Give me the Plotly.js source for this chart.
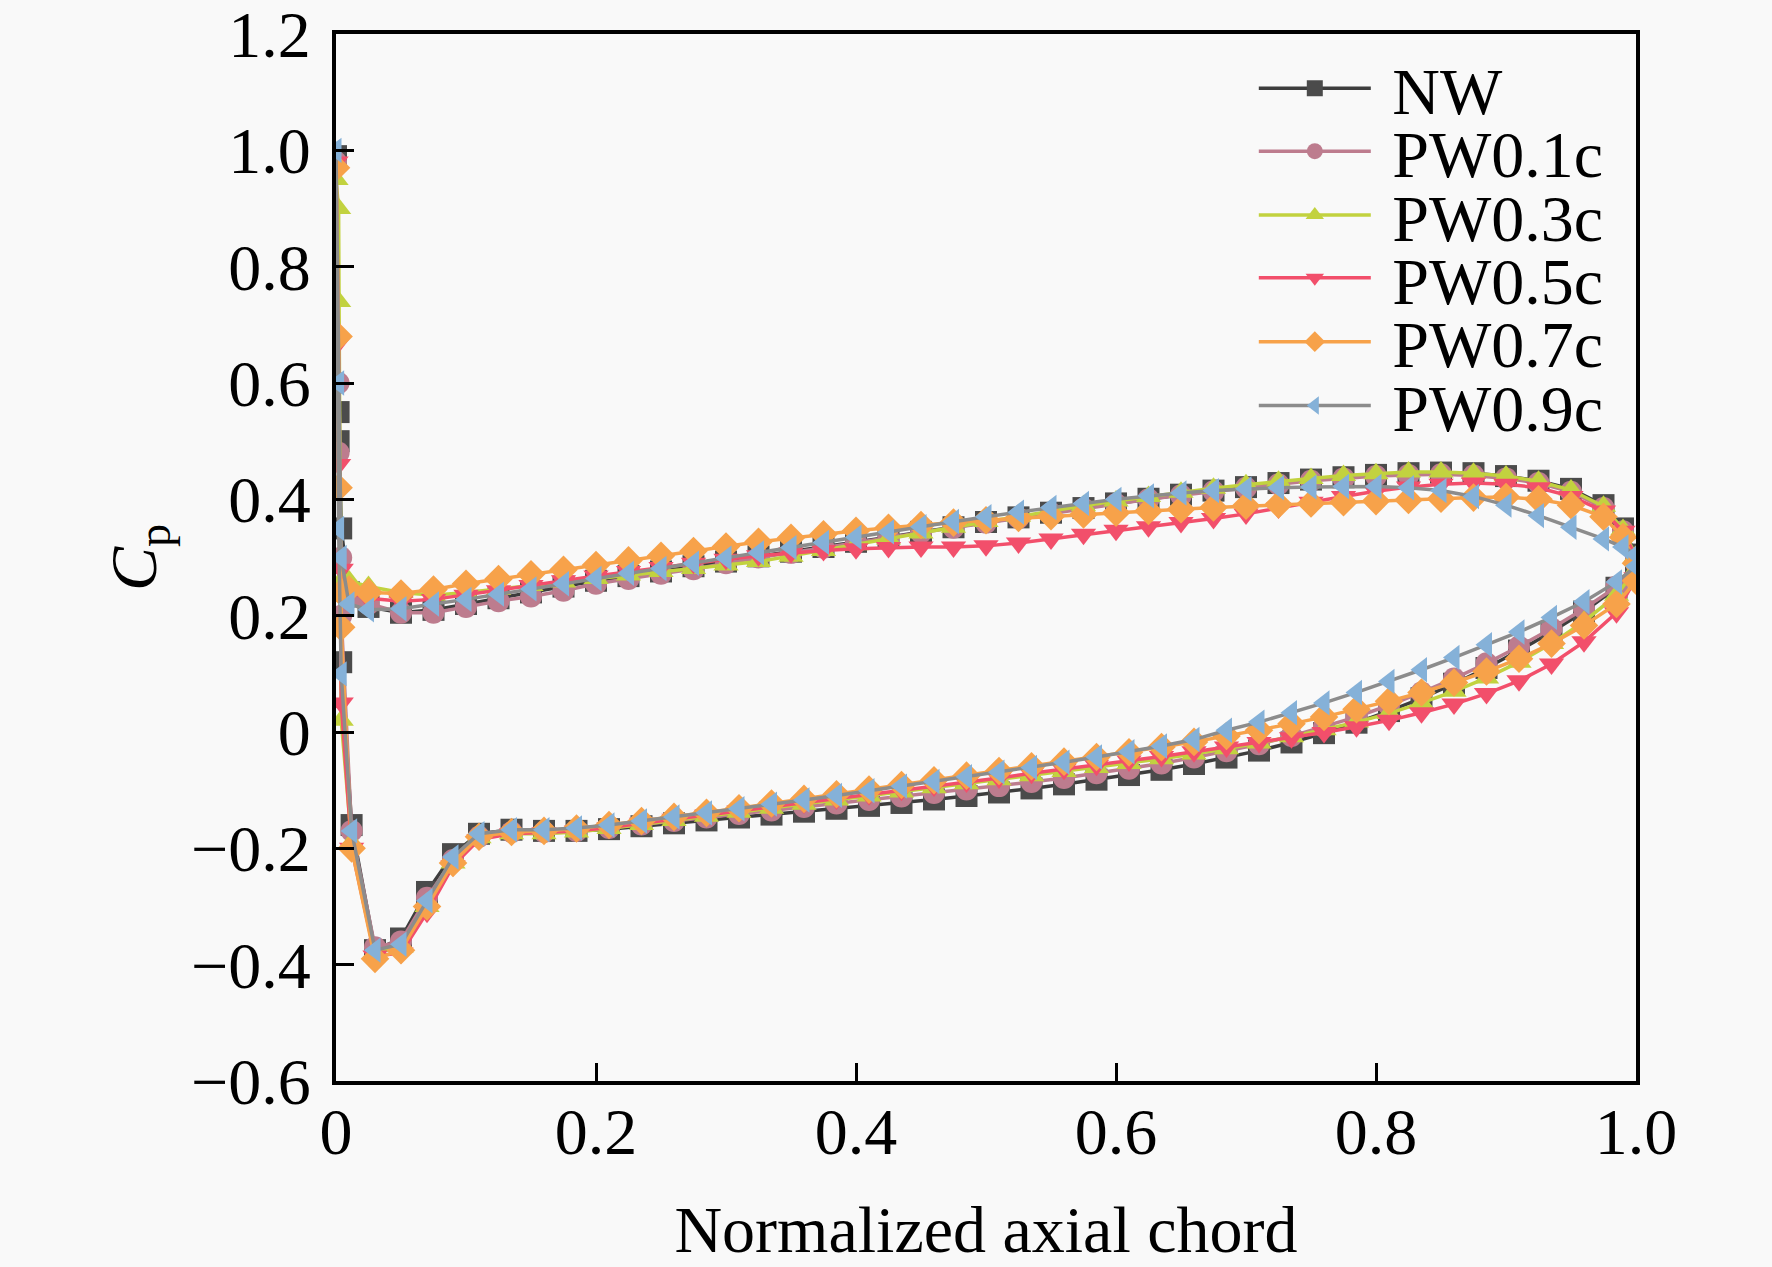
<!DOCTYPE html>
<html>
<head>
<meta charset="utf-8">
<script src="https://cdn.plot.ly/plotly-3.0.1.min.js"></script>
<style>
  html, body { margin: 0; padding: 0; background: #f9f9f9; }
  #graph_area { width: 1772px; height: 1267px; }
</style>
</head>
<body>
<div id="graph_area"></div>
<script>
// pressure side (upper branch)
const xPS = [0.01, 0.025, 0.05, 0.075, 0.1, 0.125, 0.15, 0.175, 0.2, 0.225, 0.25, 0.275, 0.3, 0.325,
    0.35, 0.375, 0.4, 0.425, 0.45, 0.475, 0.5, 0.525, 0.55, 0.575, 0.6, 0.625, 0.65, 0.675, 0.7,
    0.725, 0.75, 0.775, 0.8, 0.825, 0.85, 0.875, 0.9, 0.925, 0.95, 0.975, 0.99, 1.0];

// suction side (lower branch)
const xSS = [0.012, 0.03, 0.05, 0.07, 0.09, 0.11, 0.135, 0.16, 0.185, 0.21, 0.235, 0.26, 0.285, 0.31,
    0.335, 0.36, 0.385, 0.41, 0.435, 0.46, 0.485, 0.51, 0.535, 0.56, 0.585, 0.61, 0.635, 0.66, 0.685,
    0.71, 0.735, 0.76, 0.785, 0.81, 0.835, 0.86, 0.885, 0.91, 0.935, 0.96, 0.985, 1.0];

// points squeezed at the leading edge (stagnation region)
const xLE = [0.004, 0.002, 0, 0.002, 0.004];

const names = ["NW", "PW0.1c", "PW0.3c", "PW0.5c", "PW0.7c", "PW0.9c"];

const cpPS_NW = [0.24, 0.215, 0.205, 0.21, 0.22, 0.23, 0.24, 0.25, 0.26, 0.268, 0.276, 0.285, 0.293, 0.302,
    0.31, 0.318, 0.327, 0.335, 0.344, 0.352, 0.361, 0.369, 0.377, 0.385, 0.393, 0.401, 0.408, 0.415, 0.421,
    0.428, 0.434, 0.438, 0.442, 0.445, 0.446, 0.445, 0.44, 0.432, 0.418, 0.39, 0.35, 0.305];
const cpPS_01 = [0.23, 0.22, 0.205, 0.205, 0.215, 0.225, 0.233, 0.243, 0.255, 0.263, 0.272, 0.28, 0.29, 0.3,
    0.308, 0.317, 0.326, 0.334, 0.343, 0.351, 0.36, 0.368, 0.376, 0.384, 0.392, 0.4, 0.407, 0.414, 0.42,
    0.426, 0.432, 0.436, 0.44, 0.442, 0.443, 0.441, 0.436, 0.428, 0.413, 0.385, 0.345, 0.3];
const cpPS_03 = [0.26, 0.25, 0.24, 0.235, 0.24, 0.245, 0.252, 0.258, 0.264, 0.27, 0.276, 0.281, 0.287, 0.293,
    0.302, 0.312, 0.322, 0.332, 0.342, 0.352, 0.362, 0.371, 0.38, 0.389, 0.397, 0.405, 0.412, 0.419, 0.425,
    0.431, 0.436, 0.441, 0.444, 0.447, 0.447, 0.445, 0.44, 0.431, 0.416, 0.388, 0.348, 0.302];
const cpPS_05 = [0.24, 0.23, 0.225, 0.228, 0.235, 0.243, 0.252, 0.26, 0.268, 0.276, 0.283, 0.29, 0.297, 0.303,
    0.308, 0.312, 0.315, 0.317, 0.318, 0.318, 0.32, 0.325, 0.332, 0.34, 0.347, 0.353, 0.36, 0.367, 0.375,
    0.385, 0.395, 0.405, 0.414, 0.421, 0.426, 0.428, 0.426, 0.42, 0.405, 0.38, 0.345, 0.3];
const cpPS_07 = [0.245, 0.24, 0.238, 0.245, 0.255, 0.263, 0.271, 0.279, 0.287, 0.295, 0.303, 0.311, 0.319, 0.327,
    0.334, 0.34, 0.346, 0.351, 0.356, 0.36, 0.364, 0.368, 0.371, 0.374, 0.377, 0.38, 0.383, 0.386, 0.389,
    0.391, 0.393, 0.395, 0.397, 0.399, 0.401, 0.403, 0.404, 0.4, 0.39, 0.37, 0.335, 0.29];
const cpPS_09 = [0.22, 0.21, 0.212, 0.22, 0.228, 0.237, 0.246, 0.255, 0.264, 0.273, 0.281, 0.29, 0.299, 0.308,
    0.317, 0.326, 0.335, 0.344, 0.353, 0.362, 0.37, 0.378, 0.386, 0.393, 0.4, 0.406, 0.411, 0.415, 0.418,
    0.42, 0.421, 0.422, 0.422, 0.42, 0.415, 0.405, 0.39, 0.372, 0.352, 0.332, 0.318, 0.305];

const cpLE_NW = [0.35, 0.55, 0.99, 0.5, 0.12];
const cpLE_01 = [0.3, 0.48, 0.98, 0.6, 0.2];
const cpLE_03 = [0.26, 0.74, 0.95, 0.9, 0.02];
const cpLE_05 = [0.28, 0.46, 0.98, 0.67, 0.05];
const cpLE_07 = [0.24, 0.42, 0.97, 0.68, 0.18];
const cpLE_09 = [0.3, 0.6, 1.0, 0.35, 0.1];

const cpSS_NW = [-0.16, -0.375, -0.355, -0.275, -0.21, -0.175, -0.168, -0.17, -0.17, -0.167, -0.162, -0.157,
    -0.152, -0.147, -0.142, -0.137, -0.132, -0.127, -0.122, -0.116, -0.11, -0.104, -0.097, -0.09, -0.082,
    -0.074, -0.065, -0.055, -0.044, -0.032, -0.018, -0.002, 0.016, 0.036, 0.058, 0.083, 0.11, 0.14, 0.172,
    0.207, 0.248, 0.29];
const cpSS_01 = [-0.17, -0.37, -0.36, -0.285, -0.22, -0.18, -0.172, -0.172, -0.17, -0.165, -0.159, -0.153,
    -0.147, -0.141, -0.135, -0.129, -0.123, -0.117, -0.111, -0.105, -0.099, -0.093, -0.086, -0.079, -0.071,
    -0.063, -0.054, -0.044, -0.033, -0.021, -0.007, 0.009, 0.026, 0.046, 0.068, 0.092, 0.118, 0.147, 0.178,
    0.212, 0.25, 0.29];
const cpSS_03 = [-0.19, -0.38, -0.37, -0.3, -0.225, -0.182, -0.175, -0.175, -0.172, -0.166, -0.159, -0.152,
    -0.145, -0.138, -0.131, -0.124, -0.117, -0.11, -0.103, -0.096, -0.089, -0.082, -0.075, -0.068, -0.061,
    -0.054, -0.046, -0.038, -0.029, -0.019, -0.008, 0.004, 0.017, 0.032, 0.05, 0.07, 0.093, 0.12, 0.152,
    0.19, 0.235, 0.28];
const cpSS_05 = [-0.2, -0.385, -0.38, -0.31, -0.23, -0.185, -0.175, -0.173, -0.17, -0.164, -0.157, -0.15,
    -0.143, -0.136, -0.129, -0.122, -0.115, -0.108, -0.1, -0.093, -0.086, -0.079, -0.071, -0.064, -0.057,
    -0.05, -0.042, -0.034, -0.026, -0.018, -0.01, -0.001, 0.009, 0.02, 0.033, 0.048, 0.066, 0.088, 0.117,
    0.155, 0.205, 0.265];
const cpSS_07 = [-0.2, -0.39, -0.375, -0.3, -0.225, -0.18, -0.172, -0.17, -0.166, -0.16, -0.153, -0.146,
    -0.139, -0.131, -0.123, -0.115, -0.107, -0.099, -0.091, -0.083, -0.075, -0.067, -0.059, -0.051, -0.043,
    -0.035, -0.026, -0.017, -0.007, 0.003, 0.014, 0.026, 0.039, 0.053, 0.068, 0.085, 0.104, 0.126, 0.152,
    0.183, 0.22, 0.26];
const cpSS_09 = [-0.17, -0.375, -0.365, -0.29, -0.215, -0.175, -0.168, -0.168, -0.165, -0.16, -0.153, -0.146,
    -0.139, -0.132, -0.124, -0.117, -0.109, -0.101, -0.093, -0.085, -0.077, -0.069, -0.061, -0.052, -0.043,
    -0.034, -0.024, -0.013, 0.003, 0.017, 0.033, 0.05, 0.068, 0.087, 0.107, 0.128, 0.15, 0.172, 0.197,
    0.224, 0.258, 0.285];

const yTicks = [-0.6, -0.4, -0.2, 0, 0.2, 0.4, 0.6, 0.8, 1.0, 1.2];
const yTickText = ["\u22120.6", "\u22120.4", "\u22120.2", "0", "0.2", "0.4", "0.6", "0.8", "1.0", "1.2"];
const xTicks = [0, 0.2, 0.4, 0.6, 0.8, 1.0];
const xTickText = ["0", "0.2", "0.4", "0.6", "0.8", "1.0"];

const allPS = [cpPS_NW, cpPS_01, cpPS_03, cpPS_05, cpPS_07, cpPS_09];
const allLE = [cpLE_NW, cpLE_01, cpLE_03, cpLE_05, cpLE_07, cpLE_09];
const allSS = [cpSS_NW, cpSS_01, cpSS_03, cpSS_05, cpSS_07, cpSS_09];

const markerColors = ["#4b4b4b", "#bd7c8e", "#c2d23f", "#f24f6b", "#f7a24a", "#85b1d8"];
const lineColors = ["#3d3d3d", "#bd7c8e", "#c2d23f", "#f24f6b", "#f7a24a", "#8c8c8c"];
const symbols = ["square", "circle", "triangle-up", "triangle-down", "diamond", "triangle-left"];

const FONT = "Liberation Serif, Times New Roman, serif";

// one legend per entry so the row pitch can follow the picture
const legendIds = ["legend", "legend2", "legend3", "legend4", "legend5", "legend6"];

const traces = names.map((nm, i) => ({
    x: xPS.slice().reverse().concat(xLE, xSS),
    y: allPS[i].slice().reverse().concat(allLE[i], allSS[i]),
    name: "\u00a0" + nm,
    legend: legendIds[i],
    type: "scatter",
    mode: "lines+markers",
    line: { color: lineColors[i], width: 3.5 },
    marker: { symbol: symbols[i], size: 22, color: markerColors[i], line: { width: 0 } },
}));

const axisCommon = {
    showline: true,
    linecolor: "#000",
    linewidth: 4,
    mirror: true,
    ticks: "inside",
    ticklen: 18,
    tickwidth: 3,
    tickcolor: "#000",
    showgrid: false,
    zeroline: false,
    ticklabeloverflow: "allow",
    tickfont: { family: FONT, size: 66, color: "#000" },
};

const layout = {
    width: 1772,
    height: 1267,
    margin: { l: 336, r: 136, t: 34, b: 186 },
    paper_bgcolor: "#f9f9f9",
    plot_bgcolor: "#f9f9f9",
    showlegend: true,
    xaxis: Object.assign({}, axisCommon, {
        range: [0, 1],
        tickvals: xTicks,
        ticktext: xTickText,
        ticklabelstandoff: -10,
        title: { text: "Normalized axial chord", font: { family: FONT, size: 66, color: "#000" }, standoff: 40 },
    }),
    yaxis: Object.assign({}, axisCommon, {
        range: [-0.6, 1.2],
        tickvals: yTicks,
        ticktext: yTickText,
        ticklabelstandoff: 8,
        title: { text: "<i>C</i><sub>p</sub>", font: { family: FONT, size: 66, color: "#000" }, standoff: 14 },
    }),
};

const legendRowY = [0.948, 0.888, 0.827, 0.767, 0.706, 0.645];
legendIds.forEach((id, i) => {
    layout[id] = {
        x: 0.706, y: legendRowY[i], xanchor: "left", yanchor: "middle",
        bgcolor: "rgba(0,0,0,0)",
        font: { family: FONT, size: 66, color: "#000" },
        itemwidth: 112,
    };
});

Plotly.newPlot("graph_area", traces, layout, { staticPlot: true });
</script>
</body>
</html>
